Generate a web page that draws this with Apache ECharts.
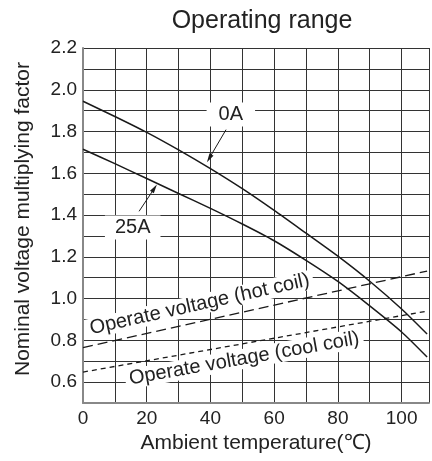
<!DOCTYPE html>
<html>
<head>
<meta charset="utf-8">
<script src="https://cdn.jsdelivr.net/npm/echarts@6/dist/echarts.min.js"></script>
<style>
html,body{margin:0;padding:0;background:#fff;}
#c{width:432px;height:461px;}
</style>
</head>
<body>
<div id="c"></div>
<script>
// ---- data ----
const temps = [0, 10, 20, 30, 40, 50, 60, 70, 80, 90, 100, 108];
const curve0A = [1.945, 1.872, 1.796, 1.712, 1.622, 1.526, 1.422, 1.313, 1.203, 1.083, 0.950, 0.830];
const curve25A = [1.715, 1.646, 1.575, 1.503, 1.432, 1.357, 1.277, 1.183, 1.082, 0.965, 0.840, 0.720];
const lineTemps = [0, 108];
const hotCoil = [0.765, 1.132];
const coolCoil = [0.648, 0.940];
const xTickLabels = ['0', '20', '40', '60', '80', '100'];
const yTickLabels = ['0.6', '0.8', '1.0', '1.2', '1.4', '1.6', '1.8', '2.0', '2.2'];
// annotations (data coordinates)
const labelTexts = ['0A', '25A', 'Operate voltage (hot coil)', 'Operate voltage (cool coil)'];
const labelAt = [[46.4, 1.881], [15.6, 1.34], [36.6, 0.972], [50.6, 0.712]];
const leaderFrom = [[44.9, 1.809], [17.6, 1.418]];
const leaderTo = [[38.9, 1.653], [23.2, 1.546]];

const FONT = "'Liberation Sans', Arial, sans-serif";
const TXT = '#222';

const chart = echarts.init(document.getElementById('c'), null, {renderer: 'canvas'});

function pairs(xs, ys) { return xs.map((x, i) => [x, ys[i]]); }

chart.setOption({
  animation: false,
  backgroundColor: '#fff',
  title: {
    text: 'Operating range',
    left: 257, top: 4, textAlign: 'center',
    textStyle: {fontFamily: FONT, fontSize: 25, fontWeight: 'normal', color: TXT}
  },
  grid: {left: 83, right: -2, top: 48, bottom: 58, containLabel: false},
  xAxis: {
    type: 'value', min: 0, max: 108.6, interval: 10,
    name: 'Ambient temperature(℃)', nameLocation: 'middle', nameGap: 29,
    nameTextStyle: {fontFamily: FONT, fontSize: 21, color: TXT},
    axisLine: {show: true, onZero: false, lineStyle: {color: '#888', width: 2}},
    axisTick: {show: false},
    axisLabel: {
      margin: 6, fontFamily: FONT, fontSize: 19, color: TXT,
      formatter: v => { const s = String(Math.round(v)); return (Math.abs(v - Math.round(v)) < 1e-6 && xTickLabels.includes(s)) ? s : ''; }
    },
    splitLine: {show: true, lineStyle: {color: '#333', width: 1}}
  },
  yAxis: {
    type: 'value', min: 0.5, max: 2.2, interval: 0.1,
    name: 'Nominal voltage multiplying factor', nameLocation: 'middle', nameGap: 49,
    nameTextStyle: {fontFamily: FONT, fontSize: 21, color: TXT, padding: [0, 0, 0, 13]},
    axisLine: {show: true, lineStyle: {color: '#888', width: 2}},
    axisTick: {show: false},
    axisLabel: {
      margin: 6, fontFamily: FONT, fontSize: 19, color: TXT,
      formatter: v => { const s = (Math.round(v * 10) / 10).toFixed(1); return yTickLabels.includes(s) ? s : ''; }
    },
    splitLine: {show: true, lineStyle: {color: '#333', width: 1}}
  },
  series: [
    {name: '0A', type: 'line', data: pairs(temps, curve0A), smooth: 0.25, symbol: 'none',
     lineStyle: {color: '#1a1a1a', width: 1.5}},
    {name: '25A', type: 'line', data: pairs(temps, curve25A), smooth: 0.25, symbol: 'none',
     lineStyle: {color: '#1a1a1a', width: 1.5}},
    {name: 'hot', type: 'line', data: pairs(lineTemps, hotCoil), symbol: 'none',
     lineStyle: {color: '#1a1a1a', width: 1.3, type: [10, 5]}},
    {name: 'cool', type: 'line', data: pairs(lineTemps, coolCoil), symbol: 'none',
     lineStyle: {color: '#1a1a1a', width: 1.3, type: [5, 4]}}
  ]
});

function px(p) { return chart.convertToPixel({gridIndex: 0}, p); }
function angleOf(ys) {
  const a = px([lineTemps[0], ys[0]]), b = px([lineTemps[1], ys[1]]);
  return Math.atan2(a[1] - b[1], b[0] - a[0]);
}
const rotations = [0, 0, angleOf(hotCoil), angleOf(coolCoil)];
const pads = [[2, 12], [2, 10], [0, 4], [0, 4]];
const sizes = [20, 20, 20, 20];

const elements = [];
labelTexts.forEach((t, i) => {
  const p = px(labelAt[i]);
  elements.push({
    type: 'text', x: p[0], y: p[1], rotation: rotations[i], z: 1,
    style: {text: t, fontFamily: FONT, fontSize: sizes[i], fill: TXT,
      align: 'center', verticalAlign: 'middle', backgroundColor: '#fff', padding: pads[i]}
  });
});
leaderFrom.forEach((f, i) => {
  const a = px(f), b = px(leaderTo[i]);
  const dx = b[0] - a[0], dy = b[1] - a[1], L = Math.hypot(dx, dy);
  const ux = dx / L, uy = dy / L, nx = -uy, ny = ux;
  const hl = 9, hw = 2.3;
  elements.push({type: 'line', z: 3, shape: {x1: a[0], y1: a[1], x2: b[0] - ux * 4, y2: b[1] - uy * 4},
    style: {stroke: '#1a1a1a', lineWidth: 1}});
  elements.push({type: 'polygon', z: 3, shape: {points: [
    [b[0], b[1]],
    [b[0] - ux * hl + nx * hw, b[1] - uy * hl + ny * hw],
    [b[0] - ux * hl - nx * hw, b[1] - uy * hl - ny * hw]]},
    style: {fill: '#1a1a1a'}});
});
chart.setOption({graphic: {elements}});
</script>
</body>
</html>
